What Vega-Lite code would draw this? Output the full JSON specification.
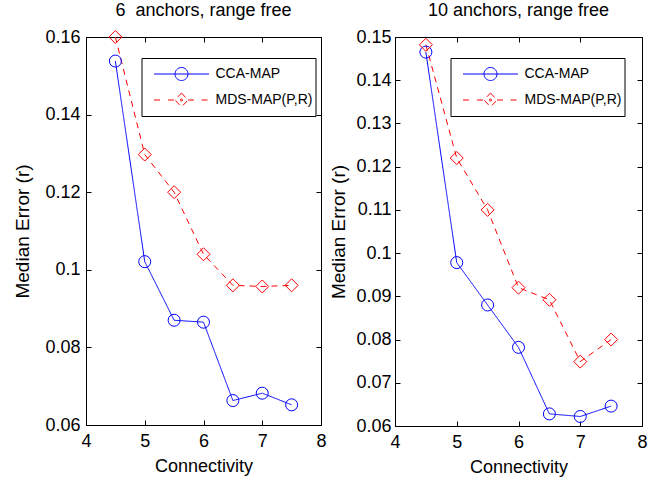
{
  "$schema": "https://vega.github.io/schema/vega-lite/v6.json",
  "background": "white",
  "padding": {"left": 13, "top": 1, "right": 5, "bottom": 0},
  "bounds": "flush",
  "spacing": 74,
  "resolve": {"scale": {"color": "independent", "strokeDash": "independent"}, "legend": {"color": "independent"}},
  "config": {
    "font": "Liberation Sans",
    "view": {"stroke": "black", "strokeWidth": 1},
    "axis": {
      "labelFont": "Liberation Sans", "labelFontSize": 18, "labelColor": "black",
      "titleFont": "Liberation Sans", "titleFontSize": 18, "titleFontWeight": "normal", "titleColor": "black",
      "tickColor": "black", "tickWidth": 1, "grid": false, "domain": false,
      "labelFlush": false, "labelOverlap": false, "tickSize": -5
    },
    "title": {"font": "Liberation Sans", "fontSize": 18, "fontWeight": "normal", "color": "black", "baseline": "alphabetic", "offset": 8.5, "frame": "group", "anchor": "middle"}
  },
  "hconcat": [
    {
      "width": 235,
      "height": 388,
      "title": {"text": "6\u00a0 anchors, range free"},
      "data": {"values": [
        {"series": "CCA-MAP", "conn": 4.5, "err": 0.1538},
        {"series": "CCA-MAP", "conn": 5.0, "err": 0.1021},
        {"series": "CCA-MAP", "conn": 5.5, "err": 0.0870},
        {"series": "CCA-MAP", "conn": 6.0, "err": 0.0865},
        {"series": "CCA-MAP", "conn": 6.5, "err": 0.0663},
        {"series": "CCA-MAP", "conn": 7.0, "err": 0.0682},
        {"series": "CCA-MAP", "conn": 7.5, "err": 0.0652},
        {"series": "MDS-MAP(P,R)", "conn": 4.5, "err": 0.1600},
        {"series": "MDS-MAP(P,R)", "conn": 5.0, "err": 0.1297},
        {"series": "MDS-MAP(P,R)", "conn": 5.5, "err": 0.1200},
        {"series": "MDS-MAP(P,R)", "conn": 6.0, "err": 0.1040},
        {"series": "MDS-MAP(P,R)", "conn": 6.5, "err": 0.0960},
        {"series": "MDS-MAP(P,R)", "conn": 7.0, "err": 0.0957},
        {"series": "MDS-MAP(P,R)", "conn": 7.5, "err": 0.0960}
      ]},
      "resolve": {"axis": {"x": "independent", "y": "independent"}},
      "layer": [
        {
          "mark": {"type": "line", "strokeWidth": 1},
          "encoding": {
            "x": {"field": "conn", "type": "quantitative", "scale": {"domain": [4, 8], "nice": false, "zero": false},
                  "axis": {"orient": "bottom", "values": [4, 5, 6, 7, 8], "format": "d", "title": "Connectivity", "labelPadding": 12.7, "titlePadding": 6.3}},
            "y": {"field": "err", "type": "quantitative", "scale": {"domain": [0.06, 0.16], "nice": false, "zero": false},
                  "axis": {"orient": "left", "values": [0.06, 0.08, 0.1, 0.12, 0.14, 0.16], "format": ".2~f", "title": "Median Error (r)", "titleFontSize": 19, "labelPadding": 11, "titlePadding": 12}},
            "color": {"field": "series", "type": "nominal",
                      "scale": {"domain": ["CCA-MAP", "MDS-MAP(P,R)"], "range": ["#0000ff", "#ff0000"]},
                      "legend": {
                        "orient": "none", "legendX": 55.5, "legendY": 21, "title": null,
                        "strokeColor": "black", "fillColor": "white", "padding": 3,
                        "symbolSize": 5329, "symbolStrokeWidth": 1, "clipHeight": 26, "rowPadding": 0,
                        "labelOffset": -3, "labelFont": "Liberation Sans", "labelFontSize": 14, "labelColor": "black",
                        "labelExpr": "datum.label + '    '", "labelLimit": 0,
                        "encode": {"symbols": {"update": {
                          "shape": {"signal": "datum.value === 'CCA-MAP' ? 'M-0.753,0H0.753M0.178,0A0.178,0.178 0 1,1 -0.178,0A0.178,0.178 0 1,1 0.178,0' : 'M-0.753,0H-0.548M-0.37,0H-0.178M0.178,0H0.37M0.548,0H0.753M0,-0.192L0.178,0L0,0.192L-0.178,0ZM0.03,0A0.03,0.03 0 1,1 -0.03,0A0.03,0.03 0 1,1 0.03,0'"},
                          "size": {"value": 5329},
                          "fill": {"value": "transparent"},
                          "strokeDash": {"value": [1, 0]},
                          "strokeWidth": {"value": 1},
                          "opacity": {"value": 1}
                        }}}
                      }},
            "strokeDash": {"field": "series", "type": "nominal",
                           "scale": {"domain": ["CCA-MAP", "MDS-MAP(P,R)"], "range": [[1, 0], [6, 5]]}, "legend": null}
          }
        },
        {
          "transform": [{"filter": "datum.series === 'CCA-MAP'"}],
          "mark": {"type": "point", "filled": false, "strokeWidth": 1, "opacity": 1, "shape": "circle", "size": 144, "color": "#0000ff"},
          "encoding": {
            "x": {"field": "conn", "type": "quantitative", "scale": {"domain": [4, 8], "nice": false, "zero": false},
                  "axis": {"orient": "top", "values": [4, 5, 6, 7, 8], "labels": false, "title": null, "minExtent": 0, "maxExtent": 0}},
            "y": {"field": "err", "type": "quantitative", "scale": {"domain": [0.06, 0.16], "nice": false, "zero": false},
                  "axis": {"orient": "right", "values": [0.06, 0.08, 0.1, 0.12, 0.14, 0.16], "labels": false, "title": null, "minExtent": 0, "maxExtent": 0}}
          }
        },
        {
          "transform": [{"filter": "datum.series === 'MDS-MAP(P,R)'"}],
          "mark": {"type": "point", "filled": false, "strokeWidth": 1, "opacity": 1, "shape": "diamond", "size": 169, "color": "#ff0000"},
          "encoding": {
            "x": {"field": "conn", "type": "quantitative", "scale": {"domain": [4, 8], "nice": false, "zero": false}, "axis": null},
            "y": {"field": "err", "type": "quantitative", "scale": {"domain": [0.06, 0.16], "nice": false, "zero": false}, "axis": null}
          }
        }
      ]
    },
    {
      "width": 247,
      "height": 389,
      "title": {"text": "10 anchors, range free"},
      "data": {"values": [
        {"series": "CCA-MAP", "conn": 4.5, "err": 0.1465},
        {"series": "CCA-MAP", "conn": 5.0, "err": 0.0978},
        {"series": "CCA-MAP", "conn": 5.5, "err": 0.0880},
        {"series": "CCA-MAP", "conn": 6.0, "err": 0.0782},
        {"series": "CCA-MAP", "conn": 6.5, "err": 0.0628},
        {"series": "CCA-MAP", "conn": 7.0, "err": 0.0622},
        {"series": "CCA-MAP", "conn": 7.5, "err": 0.0646},
        {"series": "MDS-MAP(P,R)", "conn": 4.5, "err": 0.1482},
        {"series": "MDS-MAP(P,R)", "conn": 5.0, "err": 0.1220},
        {"series": "MDS-MAP(P,R)", "conn": 5.5, "err": 0.1100},
        {"series": "MDS-MAP(P,R)", "conn": 6.0, "err": 0.0920},
        {"series": "MDS-MAP(P,R)", "conn": 6.5, "err": 0.0892},
        {"series": "MDS-MAP(P,R)", "conn": 7.0, "err": 0.0749},
        {"series": "MDS-MAP(P,R)", "conn": 7.5, "err": 0.0800}
      ]},
      "resolve": {"axis": {"x": "independent", "y": "independent"}},
      "layer": [
        {
          "mark": {"type": "line", "strokeWidth": 1},
          "encoding": {
            "x": {"field": "conn", "type": "quantitative", "scale": {"domain": [4, 8], "nice": false, "zero": false},
                  "axis": {"orient": "bottom", "values": [4, 5, 6, 7, 8], "format": "d", "title": "Connectivity", "labelPadding": 12.7, "titlePadding": 6.3}},
            "y": {"field": "err", "type": "quantitative", "scale": {"domain": [0.06, 0.15], "nice": false, "zero": false},
                  "axis": {"orient": "left", "values": [0.06, 0.07, 0.08, 0.09, 0.1, 0.11, 0.12, 0.13, 0.14, 0.15], "format": ".2~f", "title": "Median Error (r)", "titleFontSize": 19, "labelPadding": 9, "titlePadding": 7.5}},
            "color": {"field": "series", "type": "nominal",
                      "scale": {"domain": ["CCA-MAP", "MDS-MAP(P,R)"], "range": ["#0000ff", "#ff0000"]},
                      "legend": {
                        "orient": "none", "legendX": 55.5, "legendY": 21, "title": null,
                        "strokeColor": "black", "fillColor": "white", "padding": 3,
                        "symbolSize": 5329, "symbolStrokeWidth": 1, "clipHeight": 26, "rowPadding": 0,
                        "labelOffset": -3, "labelFont": "Liberation Sans", "labelFontSize": 14, "labelColor": "black",
                        "labelExpr": "datum.label + '    '", "labelLimit": 0,
                        "encode": {"symbols": {"update": {
                          "shape": {"signal": "datum.value === 'CCA-MAP' ? 'M-0.753,0H0.753M0.178,0A0.178,0.178 0 1,1 -0.178,0A0.178,0.178 0 1,1 0.178,0' : 'M-0.753,0H-0.548M-0.37,0H-0.178M0.178,0H0.37M0.548,0H0.753M0,-0.192L0.178,0L0,0.192L-0.178,0ZM0.03,0A0.03,0.03 0 1,1 -0.03,0A0.03,0.03 0 1,1 0.03,0'"},
                          "size": {"value": 5329},
                          "fill": {"value": "transparent"},
                          "strokeDash": {"value": [1, 0]},
                          "strokeWidth": {"value": 1},
                          "opacity": {"value": 1}
                        }}}
                      }},
            "strokeDash": {"field": "series", "type": "nominal",
                           "scale": {"domain": ["CCA-MAP", "MDS-MAP(P,R)"], "range": [[1, 0], [6, 5]]}, "legend": null}
          }
        },
        {
          "transform": [{"filter": "datum.series === 'CCA-MAP'"}],
          "mark": {"type": "point", "filled": false, "strokeWidth": 1, "opacity": 1, "shape": "circle", "size": 144, "color": "#0000ff"},
          "encoding": {
            "x": {"field": "conn", "type": "quantitative", "scale": {"domain": [4, 8], "nice": false, "zero": false},
                  "axis": {"orient": "top", "values": [4, 5, 6, 7, 8], "labels": false, "title": null, "minExtent": 0, "maxExtent": 0}},
            "y": {"field": "err", "type": "quantitative", "scale": {"domain": [0.06, 0.15], "nice": false, "zero": false},
                  "axis": {"orient": "right", "values": [0.06, 0.07, 0.08, 0.09, 0.1, 0.11, 0.12, 0.13, 0.14, 0.15], "labels": false, "title": null, "minExtent": 0, "maxExtent": 0}}
          }
        },
        {
          "transform": [{"filter": "datum.series === 'MDS-MAP(P,R)'"}],
          "mark": {"type": "point", "filled": false, "strokeWidth": 1, "opacity": 1, "shape": "diamond", "size": 169, "color": "#ff0000"},
          "encoding": {
            "x": {"field": "conn", "type": "quantitative", "scale": {"domain": [4, 8], "nice": false, "zero": false}, "axis": null},
            "y": {"field": "err", "type": "quantitative", "scale": {"domain": [0.06, 0.15], "nice": false, "zero": false}, "axis": null}
          }
        }
      ]
    }
  ]
}
